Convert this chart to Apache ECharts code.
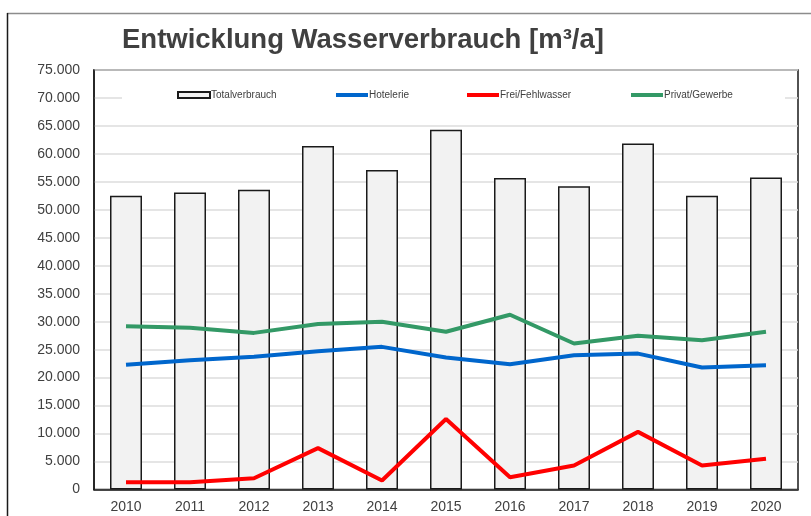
<!DOCTYPE html>
<html>
<head>
<meta charset="utf-8">
<script src="https://cdn.jsdelivr.net/npm/echarts@6/dist/echarts.min.js"></script>
<style>
  html, body { margin: 0; padding: 0; background: #fff; }
  #chart { width: 811px; height: 516px; }
</style>
</head>
<body>
<div id="chart"></div>
<script>
// Jahre
const years = ['2010', '2011', '2012', '2013', '2014', '2015', '2016', '2017', '2018', '2019', '2020'];
// Werte in m³/a
const totalverbrauch = [52500, 53100, 53600, 61400, 57100, 64300, 55700, 54200, 61850, 52500, 55800];
const hotelerie = [22300, 23100, 23750, 24700, 25500, 23600, 22400, 24000, 24300, 21800, 22200];
const freiFehlwasser = [1300, 1300, 2000, 7400, 1600, 12600, 2200, 4300, 10300, 4300, 5500];
const privatGewerbe = [29200, 28900, 28000, 29600, 30000, 28200, 31250, 26100, 27500, 26700, 28200];
const yTicks = [0, 75000, 5000]; // min, max, interval

const fmt = v => String(v).replace(/\B(?=(\d{3})+(?!\d))/g, '.');

const chart = echarts.init(document.getElementById('chart'));

const legendText = {
    fontFamily: 'Liberation Sans',
    fontSize: 10,
    color: '#404040',
    padding: [0, 0, 0, -4]
};
function legendAt(name, left, opts) {
    return Object.assign({
        data: [{ name: name, icon: 'rect' }],
        left: left,
        top: 90,
        itemWidth: 32,
        itemHeight: 4,
        padding: 0,
        selectedMode: false,
        textStyle: legendText,
        z: 5
    }, opts || {});
}

chart.setOption({
    animation: false,
    title: {
        text: 'Entwicklung Wasserverbrauch [m³/a]',
        left: 122,
        top: 26,
        padding: 0,
        textStyle: {
            fontFamily: 'Liberation Sans',
            fontWeight: 'bold',
            fontSize: 27.5,
            color: '#404040'
        }
    },
    graphic: [
        { type: 'line', shape: { x1: 7, y1: 13.5, x2: 811, y2: 13.5 }, style: { stroke: '#8c8c8c', lineWidth: 1.5 } },
        { type: 'line', shape: { x1: 7.5, y1: 13, x2: 7.5, y2: 516 }, style: { stroke: '#1a1a1a', lineWidth: 1.5 } },
        { type: 'rect', shape: { x: 122, y: 88, width: 663, height: 17 }, style: { fill: '#fff' }, z: 3 }
    ],
    legend: [
        legendAt('Totalverbrauch', 177, { itemHeight: 6 }),
        legendAt('Hotelerie', 336),
        legendAt('Frei/Fehlwasser', 467),
        legendAt('Privat/Gewerbe', 631)
    ],
    grid: {
        left: 94,
        top: 70,
        right: 13,
        bottom: 26.5,
        show: true,
        borderColor: '#1a1a1a',
        borderWidth: 1.5,
        containLabel: false
    },
    xAxis: {
        type: 'category',
        data: years,
        axisLine: { lineStyle: { color: '#1a1a1a', width: 1.5 } },
        axisTick: { show: false },
        axisLabel: {
            margin: 11,
            fontFamily: 'Liberation Sans',
            fontSize: 14,
            color: '#404040'
        }
    },
    yAxis: {
        type: 'value',
        min: yTicks[0],
        max: yTicks[1],
        interval: yTicks[2],
        axisLine: { show: true, lineStyle: { color: '#1a1a1a', width: 1.5 } },
        axisTick: { show: false },
        splitLine: { lineStyle: { color: '#dcdcdc', width: 1.5 } },
        axisLabel: {
            margin: 14,
            fontFamily: 'Liberation Sans',
            fontSize: 14,
            color: '#404040',
            formatter: fmt
        }
    },
    series: [
        {
            name: 'Totalverbrauch',
            type: 'bar',
            data: totalverbrauch,
            barWidth: 32,
            itemStyle: { color: '#f2f2f2', borderColor: '#1a1a1a', borderWidth: 1.5 }
        },
        {
            name: 'Hotelerie',
            type: 'line',
            data: hotelerie,
            symbol: 'none',
            color: '#0066cc',
            lineStyle: { width: 4, color: '#0066cc' },
            z: 3
        },
        {
            name: 'Frei/Fehlwasser',
            type: 'line',
            data: freiFehlwasser,
            symbol: 'none',
            color: '#ff0000',
            lineStyle: { width: 4, color: '#ff0000' },
            z: 3
        },
        {
            name: 'Privat/Gewerbe',
            type: 'line',
            data: privatGewerbe,
            symbol: 'none',
            color: '#339966',
            lineStyle: { width: 4, color: '#339966' },
            z: 3
        }
    ]
});
</script>
</body>
</html>
